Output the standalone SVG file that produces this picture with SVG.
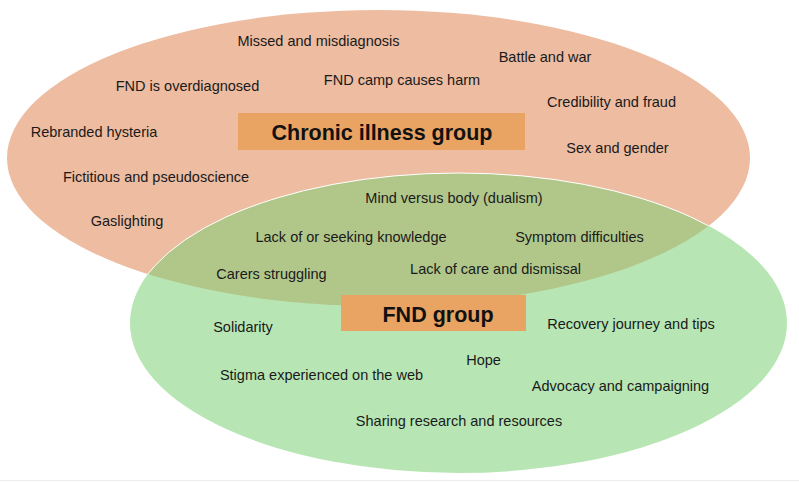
<svg xmlns="http://www.w3.org/2000/svg" width="799" height="482" viewBox="0 0 799 482">
<style>
.t{font-family:"Liberation Sans",Arial,sans-serif;font-size:14.5px;fill:#1a1a1a;text-anchor:middle}
.h{font-family:"Liberation Sans",Arial,sans-serif;font-size:21.5px;font-weight:bold;fill:#111;text-anchor:middle}
.box{fill:#e9a363}
</style>
<defs>
<clipPath id="oc"><ellipse cx="378.5" cy="158" rx="371.5" ry="148"/></clipPath>
</defs>
<rect width="799" height="482" fill="#fff"/>
<line x1="0" y1="480.5" x2="799" y2="480.5" stroke="#ececec" stroke-width="1"/>
<g id="chronic-illness-set">
<ellipse cx="378.5" cy="158" rx="371.5" ry="148" fill="#edbca1"/>
</g>
<g id="fnd-set">
<ellipse cx="458.5" cy="323" rx="328.5" ry="150" fill="#b7e6b4"/>
<ellipse cx="458.5" cy="323" rx="328.5" ry="150" fill="#b1c78a" clip-path="url(#oc)"/>
<ellipse cx="458.5" cy="323" rx="328.5" ry="150" fill="none" stroke="#ffffff" stroke-width="1" clip-path="url(#oc)"/>
</g>
<g id="connectors"></g>
<g id="chronic-label">
<rect class="box" x="238" y="113" width="287" height="37"/>
<text class="h" x="382" y="139.5">Chronic illness group</text>
</g>
<g id="fnd-label">
<rect class="box" x="341" y="295" width="185" height="36"/>
<text class="h" x="438" y="321.5">FND group</text>
</g>
<g id="themes">
<text class="t" x="318.5" y="46">Missed and misdiagnosis</text>
<text class="t" x="545" y="62">Battle and war</text>
<text class="t" x="187.5" y="91">FND is overdiagnosed</text>
<text class="t" x="402" y="85">FND camp causes harm</text>
<text class="t" x="611.5" y="107">Credibility and fraud</text>
<text class="t" x="94" y="137">Rebranded hysteria</text>
<text class="t" x="617.5" y="153">Sex and gender</text>
<text class="t" x="156" y="182">Fictitious and pseudoscience</text>
<text class="t" x="454" y="203">Mind versus body (dualism)</text>
<text class="t" x="127" y="226">Gaslighting</text>
<text class="t" x="351" y="242">Lack of or seeking knowledge</text>
<text class="t" x="579.5" y="242">Symptom difficulties</text>
<text class="t" x="271.5" y="279">Carers struggling</text>
<text class="t" x="495.5" y="274">Lack of care and dismissal</text>
<text class="t" x="243" y="332">Solidarity</text>
<text class="t" x="631" y="329">Recovery journey and tips</text>
<text class="t" x="483.5" y="365">Hope</text>
<text class="t" x="321.5" y="380">Stigma experienced on the web</text>
<text class="t" x="620.5" y="391">Advocacy and campaigning</text>
<text class="t" x="459" y="426">Sharing research and resources</text>
</g>
</svg>
